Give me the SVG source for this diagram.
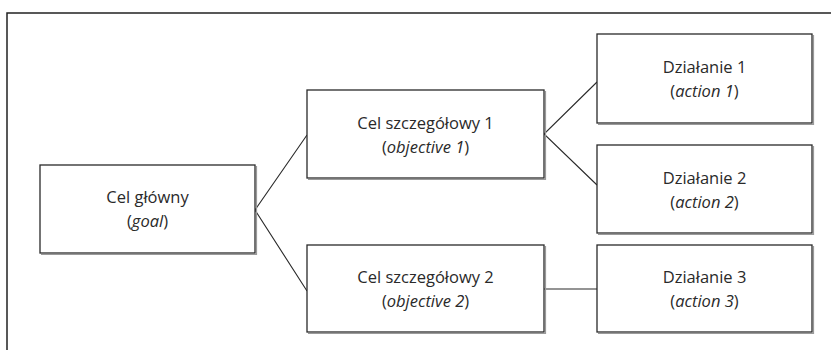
<svg xmlns="http://www.w3.org/2000/svg" width="831" height="350" viewBox="0 0 831 350">
<defs>
<style>
.frame{fill:none;stroke:#222;stroke-width:1.5}
.box{fill:#fff;stroke:#2a2a2a;stroke-width:1.3}
.sh{fill:none;stroke:#9a9a9a;stroke-width:1.2}
.conn{fill:none;stroke:#2a2a2a;stroke-width:1.1}
text{font-family:"Open Sans","Noto Sans","Liberation Sans",sans-serif;font-size:16.5px;fill:#2a2a2a;text-anchor:middle}
.i{font-style:italic}
</style>
</defs>
<rect width="831" height="350" fill="#fff"/>
<path class="frame" d="M7 352 V13 H833"/>
<g id="connectors">
<path class="conn" d="M307 135 L255 210 L307 291"/>
<path class="conn" d="M597 82 L544 134 L597 185"/>
<path class="conn" d="M544 289 H597" stroke-width="1.6"/>
</g>
<g id="goal">
<path class="sh" d="M256.5 166 V254.5 H41"/>
<rect class="box" x="40" y="165" width="215" height="88"/>
<text x="147.5" y="203">Cel główny</text>
<text x="147.5" y="227">(<tspan class="i">goal</tspan>)</text>
</g>
<g id="objective1">
<path class="sh" d="M545.5 91 V179.5 H308"/>
<rect class="box" x="307" y="90" width="237" height="88"/>
<text x="425.5" y="129">Cel szczegółowy 1</text>
<text x="425.5" y="153">(<tspan class="i">objective 1</tspan>)</text>
</g>
<g id="objective2">
<path class="sh" d="M545.5 246 V333.5 H308"/>
<rect class="box" x="307" y="245" width="237" height="87"/>
<text x="425.5" y="283">Cel szczegółowy 2</text>
<text x="425.5" y="307">(<tspan class="i">objective 2</tspan>)</text>
</g>
<g id="action1">
<path class="sh" d="M813.5 35 V124.5 H598"/>
<rect class="box" x="597" y="34" width="215" height="89"/>
<text x="704.5" y="73">Działanie 1</text>
<text x="704.5" y="97">(<tspan class="i">action 1</tspan>)</text>
</g>
<g id="action2">
<path class="sh" d="M813.5 146 V234.5 H598"/>
<rect class="box" x="597" y="145" width="215" height="88"/>
<text x="704.5" y="184">Działanie 2</text>
<text x="704.5" y="208">(<tspan class="i">action 2</tspan>)</text>
</g>
<g id="action3">
<path class="sh" d="M813.5 246 V333.5 H598"/>
<rect class="box" x="597" y="245" width="215" height="87"/>
<text x="704.5" y="283">Działanie 3</text>
<text x="704.5" y="307">(<tspan class="i">action 3</tspan>)</text>
</g>
</svg>
